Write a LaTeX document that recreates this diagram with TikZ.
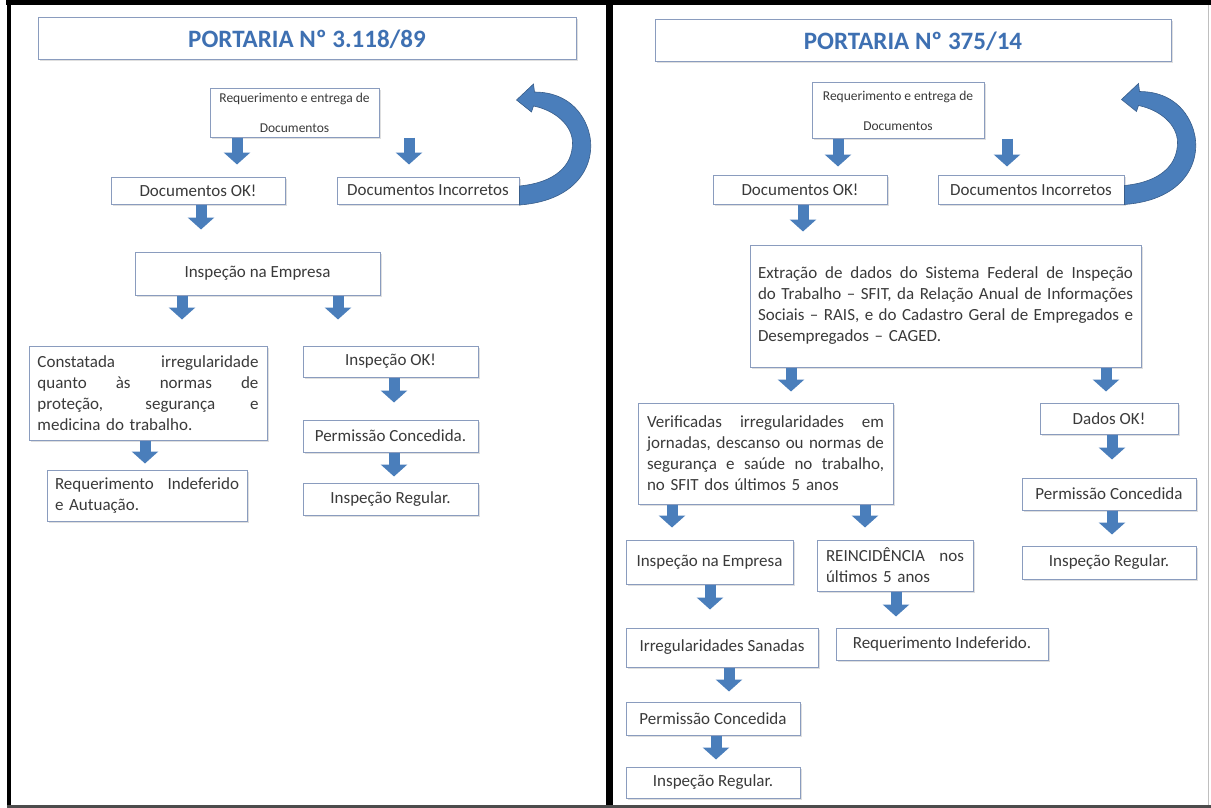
\documentclass[tikz,border=0pt]{standalone}
\usepackage{fontspec}
\setmainfont{Carlito}
\usetikzlibrary{arrows.meta,shadows}

\definecolor{flowblue}{RGB}{74,126,187}
\definecolor{flowedge}{RGB}{56,93,138}
\definecolor{titleblue}{RGB}{62,112,178}
\definecolor{boxline}{RGB}{138,156,190}
\definecolor{boxtext}{RGB}{58,58,58}

% one justified line inside a box: width, words
\newcommand{\jline}[2]{\makebox[#1][s]{\spaceskip=0.25em plus 1fil\xspaceskip=0.25em plus 1fil #2}\\}
% block arrow: source, target, x offset, gap left above target
\newcommand{\flowarrow}[4]{%
  \coordinate (f) at ([xshift=#3]#1.south);
  \draw[blk, shorten >=#4] (f) -- (f |- #2.north);}
% curved arrow going back from a box to the first box
\newcommand{\backarrow}[1]{%
  \filldraw[fill=flowblue, draw=flowedge, line width=0.6pt, shift={(#1.east)}]
    (0,14.5) .. controls (61,10) and (78,-30) .. (69,-60)
    .. controls (61,-85) and (41,-98.5) .. (15,-98.5)
    -- (14,-106.5) -- (-3,-90.5) -- (12,-78.5) -- (14,-84.5)
    .. controls (36,-80) and (53,-65) .. (53,-47.5)
    .. controls (53,-25) and (36,-8) .. (0,-4.5) -- cycle;}

\tikzset{
  box/.style={draw=boxline, line width=1pt, fill=white, text=boxtext,
    inner sep=0pt, font=\fontsize{17}{21}\selectfont,
    drop shadow={shadow xshift=1.5pt, shadow yshift=-1.5pt, opacity=0.25}},
  headbox/.style={box, text=titleblue, font=\fontsize{25}{29}\selectfont\bfseries},
  reqbox/.style={box, align=center, font=\fontsize{13.5}{16}\selectfont},
  blk/.style={draw=flowblue, line width=11pt, -{Triangle[width=26pt,length=12pt]}},
}

\begin{document}
\begin{tikzpicture}[x=1pt, y=-1pt]
    \useasboundingbox (0,0) rectangle (1211,808);

    % frame
    \draw[line width=5pt] (6,3) -- (1211,3);
    \draw[line width=4pt] (8.5,1) -- (8.5,806);
    \draw[line width=7pt] (609.5,0) -- (609.5,808);
    \draw[line width=2.5pt, black!70] (7,806.5) -- (1211,806.5);
    \draw[line width=1pt, black!25] (1208.5,5) -- (1208.5,805);

    % left: portaria 3.118/89
    \node[headbox, minimum width=538pt, minimum height=42pt] (t1) at (307,39) {PORTARIA Nº 3.118/89};
    \node[reqbox, minimum width=169pt, minimum height=48pt] (req1) at (294.5,113) {Requerimento e entrega de\\[14pt]Documentos};
    \node[box, minimum width=174pt, minimum height=27pt] (dok1) at (198,190.5) {Documentos OK!};
    \node[box, minimum width=182pt, minimum height=27pt] (dinc1) at (428,190.5) {Documentos Incorretos};
    \node[box, minimum width=245pt, minimum height=43pt] (insp1) at (257.5,273.5) {Inspeção na Empresa};
    \node[box, minimum width=238pt, minimum height=94pt, text width=221pt, align=left] (const1) at (148,393)
        {\jline{221pt}{Constatada irregularidade}\jline{221pt}{quanto às normas de}\jline{221pt}{proteção, segurança e}medicina do trabalho.};
    \node[box, minimum width=175pt, minimum height=31pt] (iok1) at (390.5,361.5) {Inspeção OK!};
    \node[box, minimum width=175pt, minimum height=32pt] (perm1) at (390.5,436) {Permissão Concedida.};
    \node[box, minimum width=175pt, minimum height=32pt] (ireg1) at (390.5,499) {Inspeção Regular.};
    \node[box, minimum width=200pt, minimum height=51pt, text width=184pt, align=left] (indef1) at (147,495.5)
        {\jline{184pt}{Requerimento Indeferido}e Autuação.};

    \flowarrow{req1}{dok1}{-57.5pt}{12pt}
    \flowarrow{req1}{dinc1}{114.5pt}{12pt}
    \flowarrow{dok1}{insp1}{3pt}{22pt}
    \flowarrow{insp1}{const1}{-75.5pt}{26pt}
    \flowarrow{insp1}{iok1}{80.5pt}{26pt}
    \flowarrow{const1}{indef1}{-3pt}{6pt}
    \flowarrow{iok1}{perm1}{3.5pt}{17pt}
    \flowarrow{perm1}{ireg1}{3.5pt}{6pt}
    \backarrow{dinc1}

    % right: portaria 375/14
    \node[headbox, minimum width=516pt, minimum height=42pt] (t2) at (913,41) {PORTARIA Nº 375/14};
    \node[reqbox, minimum width=172pt, minimum height=55pt] (req2) at (898,110.5) {Requerimento e entrega de\\[14pt]Documentos};
    \node[box, minimum width=174pt, minimum height=29pt] (dok2) at (800,190) {Documentos OK!};
    \node[box, minimum width=186pt, minimum height=29pt] (dinc2) at (1031,190) {Documentos Incorretos};
    \node[box, minimum width=391pt, minimum height=122pt, text width=375pt, align=left] (ext2) at (945.5,306)
        {\jline{375pt}{Extração de dados do Sistema Federal de Inspeção}\jline{375pt}{do Trabalho – SFIT, da Relação Anual de Informações}\jline{375pt}{Sociais – RAIS, e do Cadastro Geral de Empregados e}Desempregados – CAGED.};
    \node[box, minimum width=255pt, minimum height=101pt, text width=237pt, align=left] (verif2) at (765.5,453.5)
        {\jline{237pt}{Verificadas irregularidades em}\jline{237pt}{jornadas, descanso ou normas de}\jline{237pt}{segurança e saúde no trabalho,}no SFIT dos últimos 5 anos};
    \node[box, minimum width=138pt, minimum height=31pt] (dados2) at (1109,418.5) {Dados OK!};
    \node[box, minimum width=174pt, minimum height=32pt] (perm2r) at (1109,494) {Permissão Concedida};
    \node[box, minimum width=174pt, minimum height=33pt] (ireg2r) at (1109,562.5) {Inspeção Regular.};
    \node[box, minimum width=167pt, minimum height=44pt] (insp2) at (709.5,562) {Inspeção na Empresa};
    \node[box, minimum width=156pt, minimum height=51pt, text width=138pt, align=left] (rein2) at (895,565.5)
        {\jline{138pt}{REINCIDÊNCIA nos}últimos 5 anos};
    \node[box, minimum width=212pt, minimum height=32pt] (indef2) at (942,644) {Requerimento Indeferido.};
    \node[box, minimum width=192pt, minimum height=39pt] (san2) at (722,647.5) {Irregularidades Sanadas};
    \node[box, minimum width=174pt, minimum height=33pt] (perm2) at (713,718.5) {Permissão Concedida};
    \node[box, minimum width=174pt, minimum height=31pt] (ireg2) at (713,782.5) {Inspeção Regular.};

    \flowarrow{req2}{dok2}{-60pt}{8.5pt}
    \flowarrow{req2}{dinc2}{109pt}{8.5pt}
    \flowarrow{dok2}{ext2}{3pt}{13pt}
    \flowarrow{ext2}{verif2}{-154.5pt}{11pt}
    \flowarrow{ext2}{dados2}{160.5pt}{11pt}
    \flowarrow{dados2}{perm2r}{3pt}{18pt}
    \flowarrow{perm2r}{ireg2r}{3pt}{11pt}
    \flowarrow{verif2}{insp2}{-93.5pt}{12pt}
    \flowarrow{verif2}{rein2}{99.5pt}{12pt}
    \flowarrow{insp2}{san2}{0.5pt}{18pt}
    \flowarrow{rein2}{indef2}{1pt}{11pt}
    \flowarrow{san2}{perm2}{7pt}{10pt}
    \flowarrow{perm2}{ireg2}{3pt}{7pt}
    \backarrow{dinc2}
\end{tikzpicture}
\end{document}
